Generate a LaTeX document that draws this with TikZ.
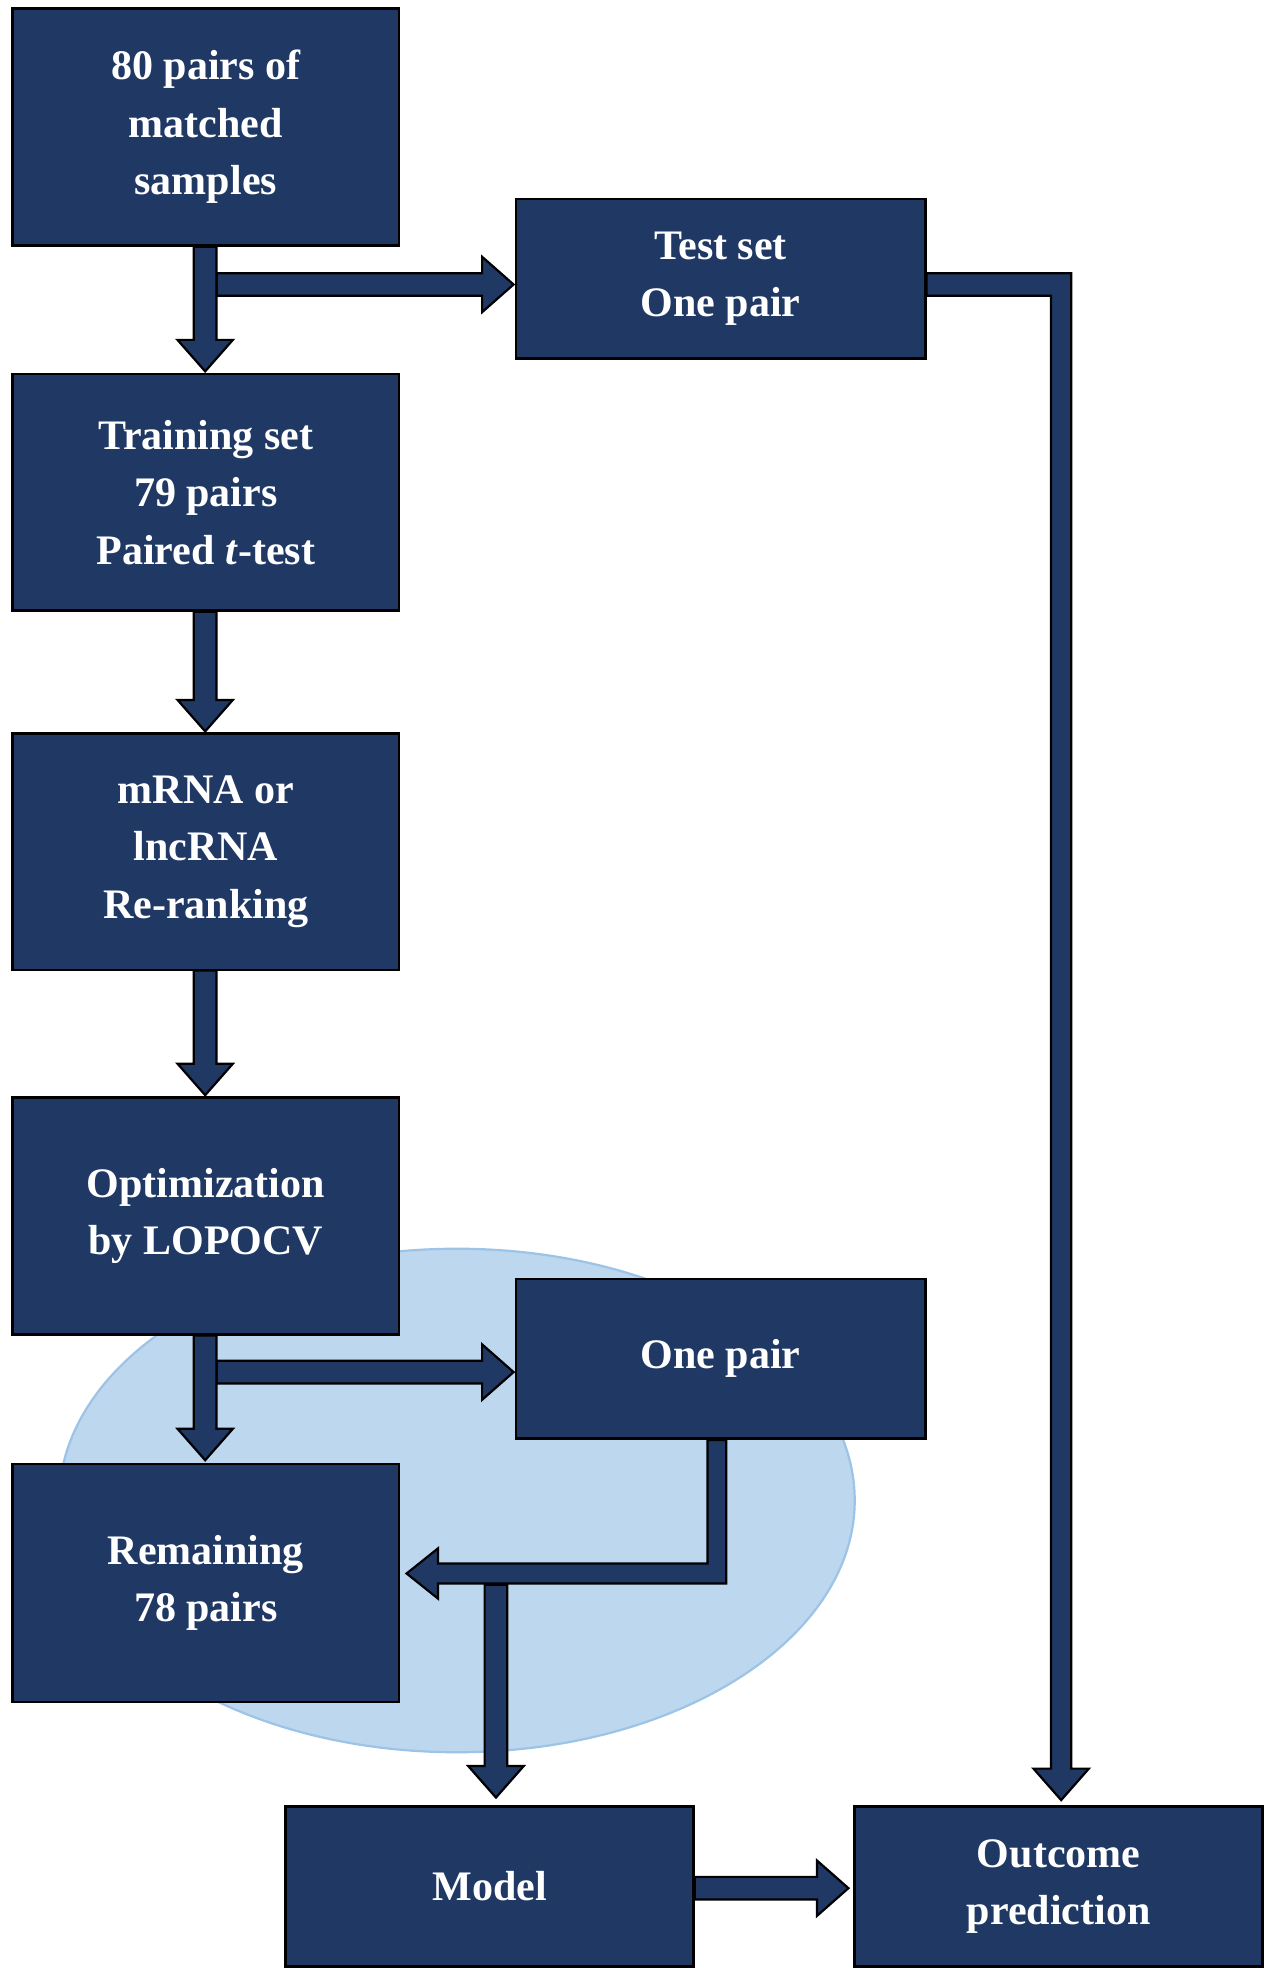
\documentclass[tikz,border=0pt]{standalone}
\usepackage{fontspec}
\setmainfont{Liberation Serif}
\begin{document}
\definecolor{boxc}{HTML}{203864}
\definecolor{ellc}{HTML}{BDD7EE}
\definecolor{elle}{HTML}{9DC3E6}
\begin{tikzpicture}[x=0.02cm,y=-0.02cm,
 box/.style={draw=black,line width=1.2pt,fill=boxc,text=white,align=center,inner sep=0pt,font=\fontsize{19}{26}\selectfont\bfseries},
 arr/.style={draw=black,line width=1pt,fill=boxc,line join=miter}]
\useasboundingbox (0,0) rectangle (1010,1565);
\fill[ellc,draw=elle,line width=1pt] (363,1192) ellipse (316 and 200);
\newcommand{\darr}[3]{\path[arr] ({#1-9},#2)--({#1+9},#2)--({#1+9},{#3-25})--({#1+22},{#3-25})--(#1,#3)--({#1-22},{#3-25})--({#1-9},{#3-25})--cycle;}
\newcommand{\rarr}[3]{\path[arr] (#2,{#1-9})--(#2,{#1+9})--({#3-25},{#1+9})--({#3-25},{#1+22})--(#3,#1)--({#3-25},{#1-22})--({#3-25},{#1-9})--cycle;}
\node[box,minimum width=307*0.02cm,minimum height=188*0.02cm] (a) at (163.5,101) {80 pairs of\\matched\\samples};
\node[box,minimum width=325*0.02cm,minimum height=127*0.02cm] (test) at (572.5,221.5) {Test set\\One pair};
\node[box,minimum width=307*0.02cm,minimum height=188*0.02cm] (train) at (163.5,391) {Training set\\79 pairs\\Paired \textit{t}-test};
\node[box,minimum width=307*0.02cm,minimum height=188*0.02cm] (rna) at (163.5,676.5) {mRNA or\\lncRNA\\Re-ranking};
\node[box,minimum width=307*0.02cm,minimum height=188*0.02cm] (opt) at (163.5,966) {Optimization\\by LOPOCV};
\node[box,minimum width=325*0.02cm,minimum height=127*0.02cm] (one) at (572.5,1079.5) {One pair};
\node[box,minimum width=307*0.02cm,minimum height=189*0.02cm] (rem) at (163.5,1257.5) {Remaining\\78 pairs};
\node[box,minimum width=324*0.02cm,minimum height=127*0.02cm] (model) at (389,1498.5) {Model};
\node[box,minimum width=324*0.02cm,minimum height=127*0.02cm] (out) at (841,1498.5) {Outcome\\prediction};
% arrows
\rarr{226}{172}{408}
\darr{163}{196}{295}
\darr{163}{486}{581}
\darr{163}{771}{870}
\rarr{1090}{172}{408}
\darr{163}{1061}{1160}
\path[arr] (736,217)--(851,217)--(851,1405)--(865,1405)--(843,1430)--(821,1405)--(835,1405)--(835,235)--(736,235)--cycle;
\darr{394}{1259}{1428}
\path[arr] (562,1144)--(577,1144)--(577,1258)--(348,1258)--(348,1270)--(323,1250)--(348,1230)--(348,1242)--(562,1242)--cycle;
\rarr{1500}{552}{674}
\end{tikzpicture}
\end{document}
